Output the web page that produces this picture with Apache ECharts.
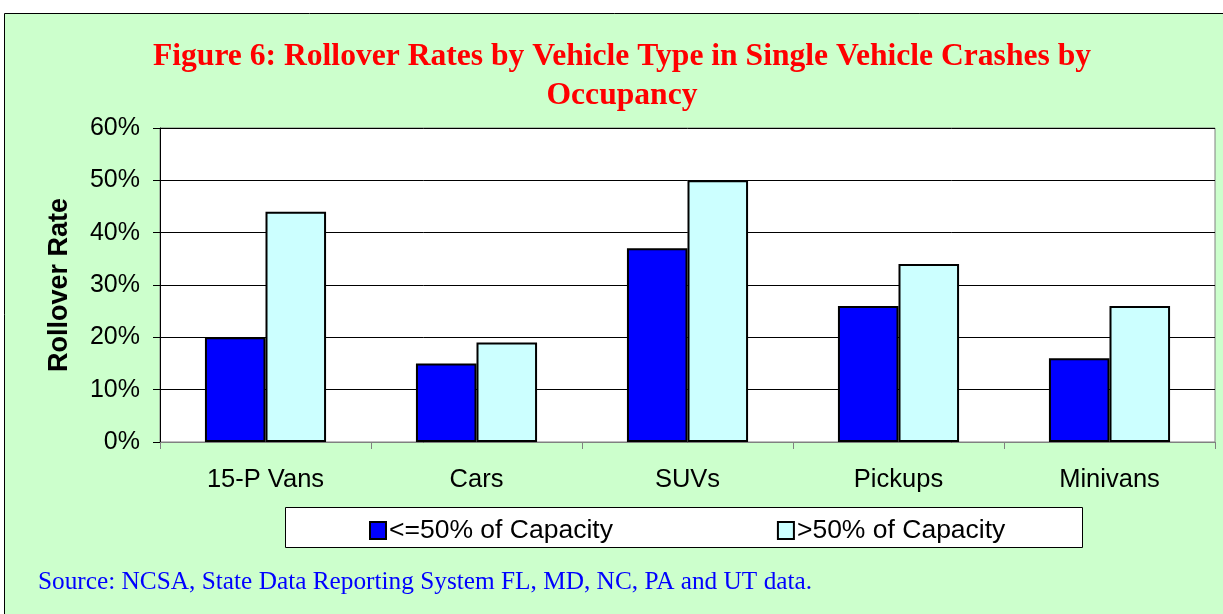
<!DOCTYPE html>
<html><head><meta charset="utf-8">
<script src="https://cdn.jsdelivr.net/npm/echarts@6/dist/echarts.min.js"></script>
<style>html,body{margin:0;padding:0;background:#fff}#c{width:1223px;height:614px}</style>
</head><body><div id="c"></div>
<script>
const categories = ['15-P Vans', 'Cars', 'SUVs', 'Pickups', 'Minivans'];
const lowOccupancy = [20, 15, 37, 26, 16];
const highOccupancy = [44, 19, 50, 34, 26];
const seriesNames = ['<=50% of Capacity', '>50% of Capacity'];
const yTicks = [0, 10, 20, 30, 40, 50, 60];
const titleText = 'Figure 6: Rollover Rates by Vehicle Type in Single Vehicle Crashes by\nOccupancy';
const sourceText = 'Source: NCSA, State Data Reporting System FL, MD, NC, PA and UT data.';

const SANS = 'Arial, "Liberation Sans", sans-serif';
const SERIF = '"Liberation Serif", "Times New Roman", serif';

const chart = echarts.init(document.getElementById('c'), null, {renderer: 'canvas'});
chart.setOption({
  animation: false,
  backgroundColor: '#fff',
  graphic: [
    {type: 'rect', z: -10, shape: {x: 4.5, y: 13.5, width: 1230, height: 620},
     style: {fill: '#CCFFCC', stroke: '#000', lineWidth: 1}},
    {type: 'rect', z: 0, shape: {x: 285.5, y: 507.5, width: 797, height: 40},
     style: {fill: '#fff', stroke: '#000', lineWidth: 1}},
    {type: 'text', x: 622, y: 37,
     style: {text: titleText, textAlign: 'center', textVerticalAlign: 'top',
       fill: '#FF0000', font: 'bold 31.6px ' + SERIF, lineHeight: 39}},
    {type: 'text', left: 38, top: 570,
     style: {text: sourceText, fill: '#0000FF', font: '25.3px ' + SERIF}}
  ],
  legend: {
    data: seriesNames,
    left: 364, top: 512, itemGap: 164,
    itemWidth: 16, itemHeight: 17,
    icon: 'rect',
    textStyle: {fontFamily: SANS, fontSize: 26.5, color: '#000', padding: [0, 0, 0, -2]}
  },
  grid: {left: 160, right: 8, top: 128, bottom: 172, show: true,
    backgroundColor: '#fff', borderColor: '#808080', borderWidth: 1},
  xAxis: {
    type: 'category', data: categories,
    axisLine: {lineStyle: {color: '#808080', width: 1}},
    axisTick: {show: true, length: 7, alignWithLabel: false, lineStyle: {color: '#808080'}},
    axisLabel: {fontFamily: SANS, fontSize: 25.5, color: '#000', margin: 25}
  },
  yAxis: {
    type: 'value', min: 0, max: 60, interval: 10,
    name: 'Rollover Rate', nameLocation: 'middle', nameGap: 87,
    nameTextStyle: {fontFamily: SANS, fontSize: 27, fontWeight: 'bold', color: '#000'},
    axisLine: {show: true, lineStyle: {color: '#000', width: 1}},
    axisTick: {show: true, length: 7, lineStyle: {color: '#000'}},
    splitLine: {lineStyle: {color: '#000', width: 1}},
    axisLabel: {formatter: v => v + '%', fontFamily: SANS,
      fontSize: 25, color: '#000', margin: 20}
  },
  series: [
    {name: seriesNames[0], type: 'bar', data: lowOccupancy, barGap: '0%', barCategoryGap: '42.6%',
     itemStyle: {color: '#0000FF', borderColor: '#000', borderWidth: 2}},
    {name: seriesNames[1], type: 'bar', data: highOccupancy,
     itemStyle: {color: '#CCFFFF', borderColor: '#000', borderWidth: 2}}
  ]
});
</script></body></html>
